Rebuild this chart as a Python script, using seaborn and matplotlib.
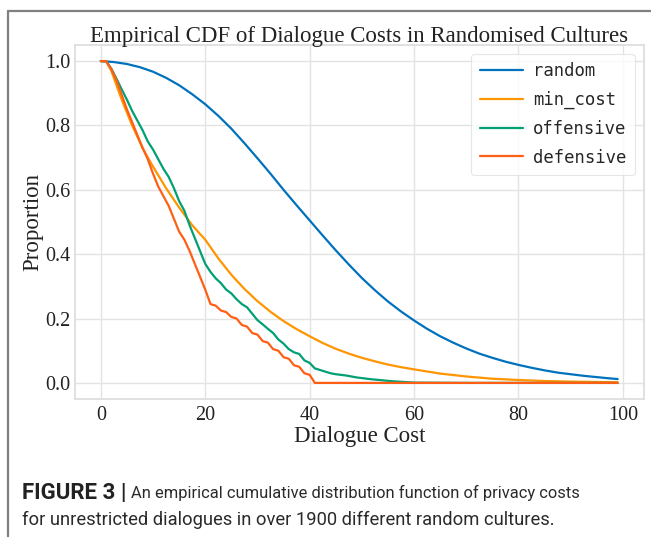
import numpy as np
import pandas as pd
import matplotlib
matplotlib.use("Agg")
import matplotlib.pyplot as plt
from matplotlib.lines import Line2D
import seaborn as sns

# Complementary empirical CDFs of dialogue cost, one per strategy
random_cost = [0, 2.5, 5, 7.5, 10, 12.5, 15, 17.5, 20, 22.5, 25, 27.5, 30, 32.5, 35, 37.5, 40,
               42.5, 45, 47.5, 50, 52.5, 55, 57.5, 60, 62.5, 65, 67.5, 70, 72.5, 75, 77.5, 80,
               82.5, 85, 87.5, 90, 92.5, 95, 97.5, 99]
random_prop = [1.000, 0.997, 0.991, 0.981, 0.967, 0.948, 0.925, 0.897, 0.866, 0.830, 0.790,
               0.745, 0.698, 0.650, 0.600, 0.552, 0.505, 0.458, 0.412, 0.368, 0.326, 0.288,
               0.253, 0.222, 0.194, 0.168, 0.145, 0.125, 0.107, 0.091, 0.078, 0.066, 0.056,
               0.047, 0.039, 0.032, 0.027, 0.022, 0.018, 0.014, 0.012]

min_cost_cost = [0, 1, 2, 3, 4, 5, 6, 7, 8, 9, 10, 12.5, 15, 17.5, 20, 22.5, 25, 27.5, 30, 32.5,
                 35, 37.5, 40, 42.5, 45, 47.5, 50, 52.5, 55, 57.5, 60, 65, 70, 75, 80, 85, 90,
                 95, 99]
min_cost_prop = [1.0, 1.0, 0.97, 0.925, 0.88, 0.84, 0.80, 0.765, 0.73, 0.70, 0.672, 0.605, 0.545,
                 0.49, 0.445, 0.387, 0.336, 0.292, 0.254, 0.221, 0.192, 0.167, 0.145, 0.124,
                 0.106, 0.091, 0.078, 0.067, 0.057, 0.049, 0.042, 0.029, 0.020, 0.013, 0.009,
                 0.006, 0.004, 0.003, 0.002]

offensive_cost = list(range(0, 51)) + [52, 54, 56, 58, 60, 70, 80, 90, 99]
offensive_prop = [1.0, 1.0, 0.977, 0.945, 0.912, 0.88, 0.845, 0.815, 0.785, 0.75, 0.725, 0.695,
                  0.665, 0.64, 0.605, 0.565, 0.535, 0.49, 0.45, 0.41, 0.37, 0.345, 0.325, 0.31,
                  0.29, 0.278, 0.26, 0.245, 0.235, 0.215, 0.195, 0.182, 0.168, 0.155, 0.135,
                  0.122, 0.105, 0.095, 0.09, 0.07, 0.062, 0.045, 0.04, 0.035, 0.03, 0.027,
                  0.025, 0.023, 0.02, 0.017, 0.015, 0.011, 0.008, 0.005, 0.003, 0.001, 0.0,
                  0.0, 0.0, 0.0]

defensive_cost = list(range(0, 42)) + [60, 80, 99]
defensive_prop = [1.0, 1.0, 0.975, 0.94, 0.895, 0.85, 0.81, 0.77, 0.73, 0.695, 0.65, 0.61, 0.58,
                  0.55, 0.51, 0.47, 0.445, 0.41, 0.37, 0.33, 0.29, 0.245, 0.24, 0.225, 0.22,
                  0.205, 0.2, 0.18, 0.175, 0.155, 0.15, 0.13, 0.125, 0.105, 0.10, 0.08, 0.075,
                  0.055, 0.05, 0.03, 0.025, 0.0, 0.0, 0.0, 0.0]

strategies = ["random", "min_cost", "offensive", "defensive"]
colors = ["#0072BD", "#FF9500", "#00A074", "#FF5F15"]

frames = []
for name, xs, ys in [("random", random_cost, random_prop),
                     ("min_cost", min_cost_cost, min_cost_prop),
                     ("offensive", offensive_cost, offensive_prop),
                     ("defensive", defensive_cost, defensive_prop)]:
    frames.append(pd.DataFrame({"cost": xs, "prop": ys, "strategy": name}))
df = pd.concat(frames, ignore_index=True)

sns.set_theme(style="whitegrid")
plt.rcParams["font.family"] = ["Liberation Serif", "DejaVu Serif"]

fig = plt.figure(figsize=(6.51, 5.37), dpi=100)
left, right, top, bottom = 75 / 651, 643.5 / 651, 1 - 45 / 537, 1 - 399 / 537
ax = fig.add_axes([left, bottom, right - left, top - bottom])

sns.lineplot(data=df, x="cost", y="prop", hue="strategy", hue_order=strategies,
             palette=colors, linewidth=1.6, ax=ax, sort=False)

ax.set_xlim(-4.95, 103.95)
ax.set_ylim(-0.05, 1.05)
ax.set_xticks([0, 20, 40, 60, 80, 100])
ax.set_yticks([0.0, 0.2, 0.4, 0.6, 0.8, 1.0])
ax.set_yticklabels(["0.0", "0.2", "0.4", "0.6", "0.8", "1.0"])
ax.tick_params(axis="x", labelsize=14.5, colors="#222222", length=0, pad=5)
ax.tick_params(axis="y", labelsize=14.5, colors="#222222", length=0, pad=3.5)
for s in ax.spines.values():
    s.set_color("#dddddd")
ax.grid(color="#e3e3e3", linewidth=1.0)

ax.set_title("Empirical CDF of Dialogue Costs in Randomised Cultures", fontsize=16.5,
             color="#222222", pad=2)
ax.set_xlabel("Dialogue Cost", fontsize=16.5, color="#222222", labelpad=1)
ax.set_ylabel("Proportion", fontsize=16.5, color="#222222", labelpad=1)

handles = [Line2D([0], [0], color=c, lw=1.6) for c in colors]
leg = ax.legend(handles, strategies, loc="upper right", frameon=True,
                prop={"family": "DejaVu Sans Mono", "size": 12.4},
                handlelength=2.5, handletextpad=0.6, borderpad=0.5, labelspacing=0.62)
leg.get_frame().set_edgecolor("#e0e0e0")
leg.get_frame().set_linewidth(0.8)

# frame lines of the figure panel
fig.add_artist(Line2D([8 / 651, 8 / 651], [0, 1 - 11 / 537], transform=fig.transFigure,
                      color="#808080", lw=1.6))
fig.add_artist(Line2D([8 / 651, 1.0], [1 - 11 / 537, 1 - 11 / 537], transform=fig.transFigure,
                      color="#808080", lw=1.6))

cap_font = ["Roboto", "DejaVu Sans"]
fig.text(22 / 651, 1 - 493 / 537, "FIGURE 3 |", fontsize=16, fontweight="bold",
         family=cap_font, color="#222222", va="center", ha="left")
fig.text(131 / 651, 1 - 493 / 537,
         "An empirical cumulative distribution function of privacy costs",
         fontsize=11.9, family=cap_font, fontweight="normal", color="#2a2a2a",
         va="center", ha="left")
fig.text(22 / 651, 1 - 520 / 537,
         "for unrestricted dialogues in over 1900 different random cultures.",
         fontsize=13.2, family=cap_font, fontweight="normal", color="#2a2a2a",
         va="center", ha="left")

fig.savefig("out.png", dpi=100)
